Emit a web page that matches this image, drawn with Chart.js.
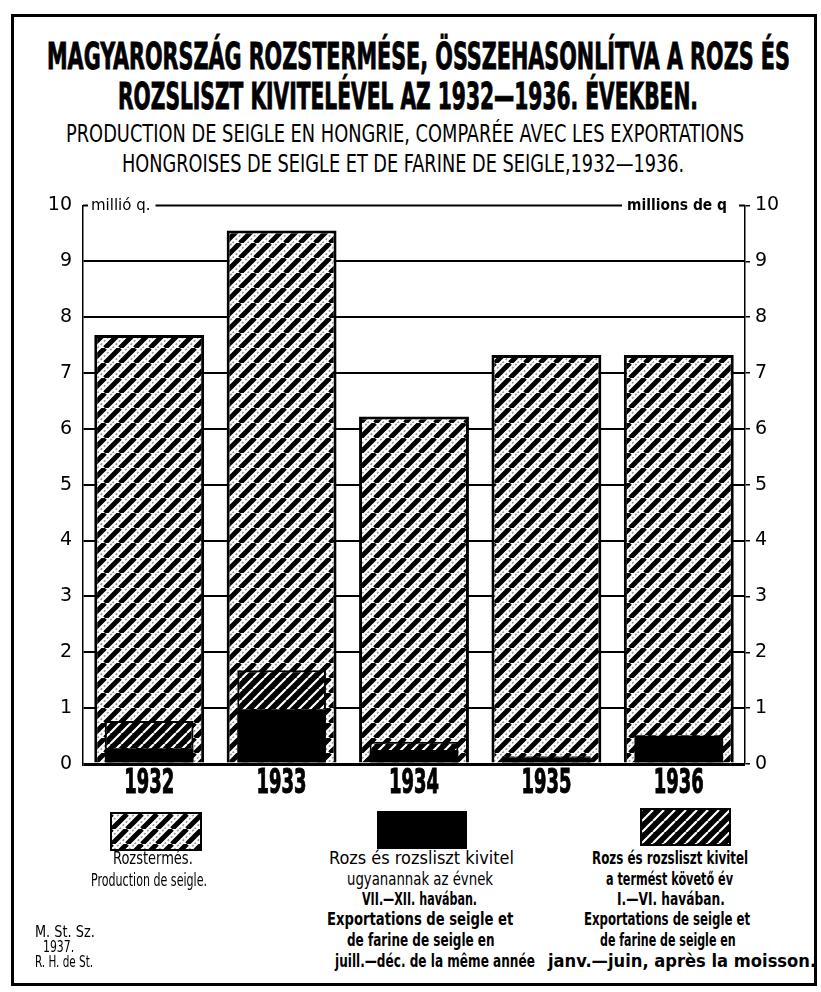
<!DOCTYPE html>
<html>
<head>
<meta charset="utf-8">
<script src="https://cdn.jsdelivr.net/npm/chart.js"></script>
<style>
  html, body { margin: 0; padding: 0; background: #fff; }
  body { width: 821px; height: 992px; position: relative; overflow: hidden; color: #000; }
  .frame { position: absolute; left: 11px; top: 14px; width: 806px; height: 972px; border: 3px solid #000; box-sizing: border-box; }
  .t { position: absolute; white-space: nowrap; width: max-content; transform-origin: 0 50%;
       font-family: "DejaVu Sans Condensed", "Liberation Sans Narrow", "DejaVu Sans", sans-serif; }
  .heavy { -webkit-text-stroke: 0.9px #000; }
  #chart { position: absolute; left: 0; top: 183px; }
  .swatch { position: absolute; border: 2px solid #000; box-sizing: border-box; }
</style>
</head>
<body>
<div class="frame"></div>

<!-- title -->
<div class="t heavy" data-x="47" data-y="56" data-w="743" data-fs="37" data-b="1">MAGYARORSZÁG ROZSTERMÉSE, ÖSSZEHASONLÍTVA A ROZS ÉS</div>
<div class="t heavy" data-x="118" data-y="96" data-w="580" data-fs="37" data-b="1">ROZSLISZT KIVITELÉVEL AZ 1932—1936. ÉVEKBEN.</div>
<div class="t" data-x="66" data-y="133" data-w="678" data-fs="25">PRODUCTION DE SEIGLE EN HONGRIE, COMPARÉE AVEC LES EXPORTATIONS</div>
<div class="t" data-x="122" data-y="163" data-w="562" data-fs="25">HONGROISES DE SEIGLE ET DE FARINE DE SEIGLE,1932—1936.</div>

<canvas id="chart" width="821" height="621"></canvas>

<!-- legend -->
<canvas class="swatch" id="sw-prod" style="left:110px;top:812px" width="88" height="35"></canvas>
<canvas class="swatch" id="sw-black" style="left:377px;top:811px" width="86" height="34"></canvas>
<canvas class="swatch" id="sw-hatch" style="left:640px;top:808px" width="87" height="34"></canvas>

<div class="t" data-x="113" data-y="858" data-w="80" data-fs="17">Rozstermés.</div>
<div class="t" data-x="91" data-y="880" data-w="116" data-fs="17">Production de seigle.</div>
<div class="t" data-x="35" data-y="932" data-w="60" data-fs="16">M. St. Sz.</div>
<div class="t" data-x="43" data-y="947" data-w="31" data-fs="16">1937.</div>
<div class="t" data-x="35" data-y="962" data-w="58" data-fs="16">R. H. de St.</div>

<div class="t" data-x="329" data-y="858" data-w="185" data-fs="17">Rozs és rozsliszt kivitel</div>
<div class="t" data-x="347" data-y="879" data-w="146" data-fs="17">ugyanannak az évnek</div>
<div class="t" data-x="362" data-y="899" data-w="115" data-fs="17" data-b="1">VII.—XII. havában.</div>
<div class="t" data-x="327" data-y="919" data-w="186" data-fs="17" data-b="1">Exportations de seigle et</div>
<div class="t" data-x="347" data-y="940" data-w="148" data-fs="17" data-b="1">de farine de seigle en</div>
<div class="t" data-x="335" data-y="961" data-w="200" data-fs="17" data-b="1">juill.—déc. de la même année</div>

<div class="t" data-x="592" data-y="858" data-w="156" data-fs="17" data-b="1">Rozs és rozsliszt kivitel</div>
<div class="t" data-x="606" data-y="879" data-w="127" data-fs="17" data-b="1">a termést követő év</div>
<div class="t" data-x="617" data-y="899" data-w="108" data-fs="17" data-b="1">I.—VI. havában.</div>
<div class="t" data-x="584" data-y="919" data-w="166" data-fs="17" data-b="1">Exportations de seigle et</div>
<div class="t" data-x="600" data-y="940" data-w="136" data-fs="17" data-b="1">de farine de seigle en</div>
<div class="t" data-x="548" data-y="961" data-w="268" data-fs="17" data-b="1">janv.—juin, après la moisson.</div>

<script>
const YEARS = ['1932', '1933', '1934', '1935', '1936'];
// millió q.
const PRODUCTION = [7.68, 9.55, 6.22, 7.32, 7.32];
const EXPORT_JUL_DEC = [0.28, 0.98, 0.25, 0.12, 0.50];
const EXPORT_JAN_JUN = [0.49, 0.70, 0.15, 0.02, 0.02];
const Y_MIN = 0;
const Y_MAX = 10;
const Y_STEP = 1;

const TICK_FONT = { family: '"DejaVu Sans", sans-serif', size: 19 };
const NARROW = '"Liberation Sans Narrow", "DejaVu Sans Condensed", "DejaVu Sans", sans-serif';

function stripeTile(size, bg, fg, lw, texture) {
  const c = document.createElement('canvas');
  c.width = size;
  c.height = size;
  const x = c.getContext('2d');
  x.fillStyle = bg;
  x.fillRect(0, 0, size, size);
  if (texture) {
    // the grey speckle inside the white bands
    x.strokeStyle = '#9a9a9a';
    x.lineWidth = 1.6;
    x.setLineDash([2, 2.5]);
    x.beginPath();
    [-size / 2, size / 2].forEach((o) => { x.moveTo(o, size); x.lineTo(o + size, 0); });
    x.stroke();
    x.setLineDash([]);
  }
  x.strokeStyle = fg;
  x.lineWidth = lw;
  x.beginPath();
  [-size, 0, size].forEach((o) => { x.moveTo(o, size); x.lineTo(o + size, 0); });
  x.stroke();
  return c;
}

const canvas = document.getElementById('chart');
const ctx = canvas.getContext('2d');
const prodPattern = ctx.createPattern(stripeTile(15, '#fff', '#000', 5, true), 'repeat');
const hatchPattern = ctx.createPattern(stripeTile(11, '#000', '#fff', 2.2, false), 'repeat');

function paintSwatch(id, fill) {
  const c = document.getElementById(id);
  const x = c.getContext('2d');
  x.fillStyle = typeof fill === 'string' ? fill : x.createPattern(fill, 'repeat');
  x.fillRect(0, 0, c.width, c.height);
}
paintSwatch('sw-prod', stripeTile(15, '#fff', '#000', 5, true));
paintSwatch('sw-black', '#000');
paintSwatch('sw-hatch', stripeTile(11, '#000', '#fff', 2.2, false));

const extras = {
  id: 'extras',
  afterDatasetsDraw(chart) {
    const { ctx, chartArea } = chart;
    const xs = chart.scales.x;
    const ys = chart.scales.y;
    const yTop = ys.getPixelForValue(Y_MAX);
    ctx.save();
    ctx.fillStyle = '#000';
    ctx.strokeStyle = '#000';

    // top line with the unit labels cut into it
    ctx.textBaseline = 'middle';
    ctx.font = '15px "DejaVu Sans", sans-serif';
    ctx.textAlign = 'left';
    const lx = chartArea.left + 8;
    const lw = Math.min(ctx.measureText('millió q.').width, 60);
    ctx.fillText('millió q.', lx, yTop + 1, 60);
    ctx.font = 'bold 15px "DejaVu Sans", sans-serif';
    ctx.textAlign = 'right';
    const rx = chartArea.right - 18;
    const rw = Math.min(ctx.measureText('millions de q').width, 100);
    ctx.fillText('millions de q', rx, yTop + 1, 100);

    ctx.lineWidth = 2;
    ctx.beginPath();
    ctx.moveTo(chartArea.left, yTop);
    ctx.lineTo(chartArea.left + 5, yTop);
    ctx.moveTo(lx + lw + 5, yTop);
    ctx.lineTo(rx - rw - 5, yTop);
    ctx.moveTo(chartArea.right - 6, yTop);
    ctx.lineTo(chartArea.right, yTop);
    ctx.stroke();

    // year labels
    ctx.font = 'bold 34px ' + NARROW;
    ctx.textAlign = 'center';
    ctx.lineWidth = 1;
    YEARS.forEach((label, i) => {
      const x = xs.getPixelForValue(i);
      ctx.fillText(label, x, chartArea.bottom + 20, 50);
      ctx.strokeText(label, x, chartArea.bottom + 20, 50);
    });
    ctx.restore();
  },
};

new Chart(canvas, {
  type: 'bar',
  data: {
    labels: YEARS,
    datasets: [
      {
        label: 'Rozstermés',
        data: PRODUCTION,
        backgroundColor: prodPattern,
        borderColor: '#000',
        borderWidth: 3,
        barPercentage: 0.83,
        categoryPercentage: 1,
        grouped: false,
        stack: 'prod',
        order: 3,
      },
      {
        label: 'Kivitel VII.—XII.',
        data: EXPORT_JUL_DEC,
        backgroundColor: '#000',
        borderWidth: 0,
        barPercentage: 0.67,
        categoryPercentage: 1,
        grouped: false,
        stack: 'exp',
        order: 1,
      },
      {
        label: 'Kivitel I.—VI.',
        data: EXPORT_JAN_JUN,
        backgroundColor: hatchPattern,
        borderColor: '#000',
        borderWidth: 2,
        barPercentage: 0.67,
        categoryPercentage: 1,
        grouped: false,
        stack: 'exp',
        order: 2,
      },
    ],
  },
  options: {
    responsive: false,
    animation: false,
    layout: { autoPadding: false, padding: { top: 12, left: 0, right: 0, bottom: 0 } },
    plugins: { legend: { display: false }, tooltip: { enabled: false } },
    scales: {
      x: {
        grid: { display: false },
        border: { display: false },
        ticks: { display: false },
        afterFit: (s) => { s.height = 40; },
      },
      y: {
        position: 'left',
        stacked: true,
        min: Y_MIN,
        max: Y_MAX,
        ticks: { stepSize: Y_STEP, color: '#000', font: TICK_FONT, padding: 11 },
        grid: {
          color: '#000',
          drawTicks: false,
          lineWidth: (c) => (c.tick.value === Y_MAX ? 0 : c.tick.value === Y_MIN ? 3 : 2),
        },
        border: { display: true, color: '#000', width: 1.5 },
        afterFit: (s) => { s.width = 83; },
      },
      y2: {
        position: 'right',
        min: Y_MIN,
        max: Y_MAX,
        ticks: { stepSize: Y_STEP, color: '#000', font: TICK_FONT, padding: 5 },
        grid: { drawOnChartArea: false, drawTicks: true, tickLength: 5, color: '#000', lineWidth: 1.5 },
        border: { display: true, color: '#000', width: 1.5 },
        afterFit: (s) => { s.width = 76; },
      },
    },
  },
  plugins: [extras],
});

// squeeze each text line into the width it has on the sheet
function fitText() {
  document.querySelectorAll('.t').forEach((el) => {
    const fs = +el.dataset.fs;
    el.style.fontSize = fs + 'px';
    el.style.lineHeight = fs + 'px';
    el.style.fontWeight = el.dataset.b ? 'bold' : 'normal';
    el.style.left = el.dataset.x + 'px';
    el.style.top = (+el.dataset.y - fs * 0.5) + 'px';
    el.style.transform = 'none';
    const natural = el.offsetWidth;
    el.style.transform = `scaleX(${(+el.dataset.w / natural).toFixed(4)})`;
  });
}
fitText();
if (document.fonts) document.fonts.ready.then(fitText);
</script>
</body>
</html>
